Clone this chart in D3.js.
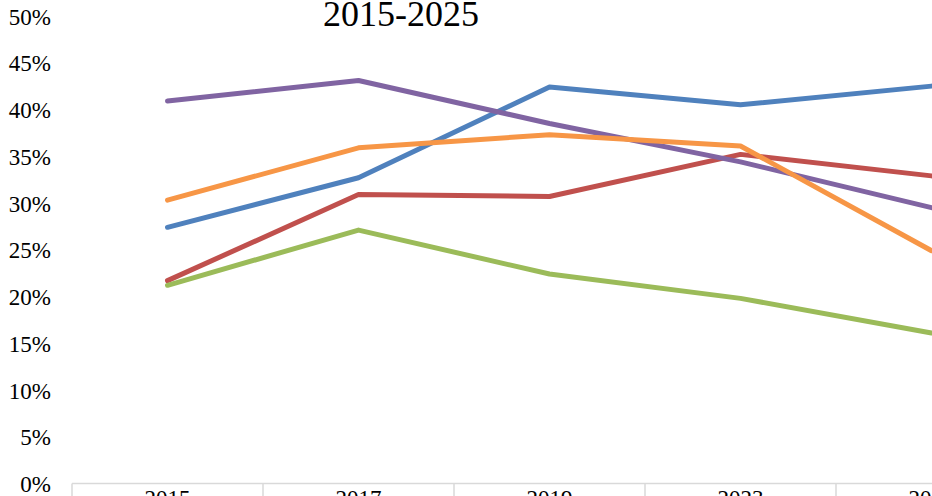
<!DOCTYPE html>
<html>
<head>
<meta charset="utf-8">
<script src="https://cdn.jsdelivr.net/npm/d3@7"></script>
<style>
  body { margin: 0; background: #fff; overflow: hidden; }
  svg { display: block; }
  text { font-family: "Liberation Serif", "Times New Roman", serif; fill: #000; }
</style>
</head>
<body>
<svg width="932" height="496"></svg>
<script>
// data
var years = ["2015", "2017", "2019", "2023", "2025"];
var blue   = [0.274, 0.327, 0.424, 0.405, 0.425];
var red    = [0.217, 0.309, 0.307, 0.352, 0.329];
var green  = [0.212, 0.271, 0.224, 0.198, 0.161];
var purple = [0.409, 0.431, 0.385, 0.344, 0.295];
var orange = [0.303, 0.359, 0.373, 0.361, 0.249];
var yTicks = [0, 0.05, 0.1, 0.15, 0.2, 0.25, 0.3, 0.35, 0.4, 0.45, 0.5];
var title = "2015-2025";

var series = [
  {name: "blue",   values: blue,   color: "#4f81bd"},
  {name: "red",    values: red,    color: "#c0504d"},
  {name: "green",  values: green,  color: "#9bbb59"},
  {name: "purple", values: purple, color: "#8064a2"},
  {name: "orange", values: orange, color: "#f79646"}
];

var serif = "'Liberation Serif', 'Times New Roman', serif";

var svg = d3.select("svg");

var x = d3.scaleBand().domain(years).range([72, 72 + 191 * years.length]).padding(0);
var y = d3.scaleLinear().domain([0, 0.5]).range([483.5, 16]);

// title
svg.append("text")
    .attr("x", 401)
    .attr("y", 26)
    .attr("text-anchor", "middle")
    .style("font-family", serif)
    .style("font-size", "36px")
    .text(title);

// y axis labels (no axis line)
var yAxis = svg.append("g")
    .attr("transform", "translate(51,0)")
    .call(d3.axisLeft(y).tickValues(yTicks).tickFormat(d3.format(".0%")).tickSize(0).tickPadding(0));
yAxis.attr("font-family", null);
yAxis.select(".domain").remove();
yAxis.selectAll("text")
    .style("font-family", serif)
    .style("font-size", "23px")
    .attr("dy", "0.35em");

// data table grid at the bottom
var grid = svg.append("g").attr("class", "table");
grid.append("line")
    .attr("x1", x.range()[0]).attr("x2", x.range()[1])
    .attr("y1", y(0)).attr("y2", y(0))
    .attr("stroke", "#d9d9d9").attr("stroke-width", 1.5);
grid.selectAll(".vline")
    .data(years.concat(["end"]))
    .enter().append("line")
    .attr("class", "vline")
    .attr("x1", function(d, i) { return x.range()[0] + i * x.step(); })
    .attr("x2", function(d, i) { return x.range()[0] + i * x.step(); })
    .attr("y1", y(0)).attr("y2", 520)
    .attr("stroke", "#d9d9d9").attr("stroke-width", 1.5);

grid.selectAll(".xlabel")
    .data(years)
    .enter().append("text")
    .attr("class", "xlabel")
    .attr("x", function(d) { return x(d) + x.bandwidth() / 2; })
    .attr("y", 505.5)
    .attr("text-anchor", "middle")
    .style("font-family", serif)
    .style("font-size", "23px")
    .text(function(d) { return d; });

// lines
var line = d3.line()
    .x(function(d, i) { return x(years[i]) + x.bandwidth() / 2; })
    .y(function(d) { return y(d); });

svg.selectAll(".series")
    .data(series)
    .enter().append("path")
    .attr("class", "series")
    .attr("fill", "none")
    .attr("stroke", function(d) { return d.color; })
    .attr("stroke-width", 5)
    .attr("stroke-linejoin", "round")
    .attr("stroke-linecap", "round")
    .attr("d", function(d) { return line(d.values); });
</script>
</body>
</html>
